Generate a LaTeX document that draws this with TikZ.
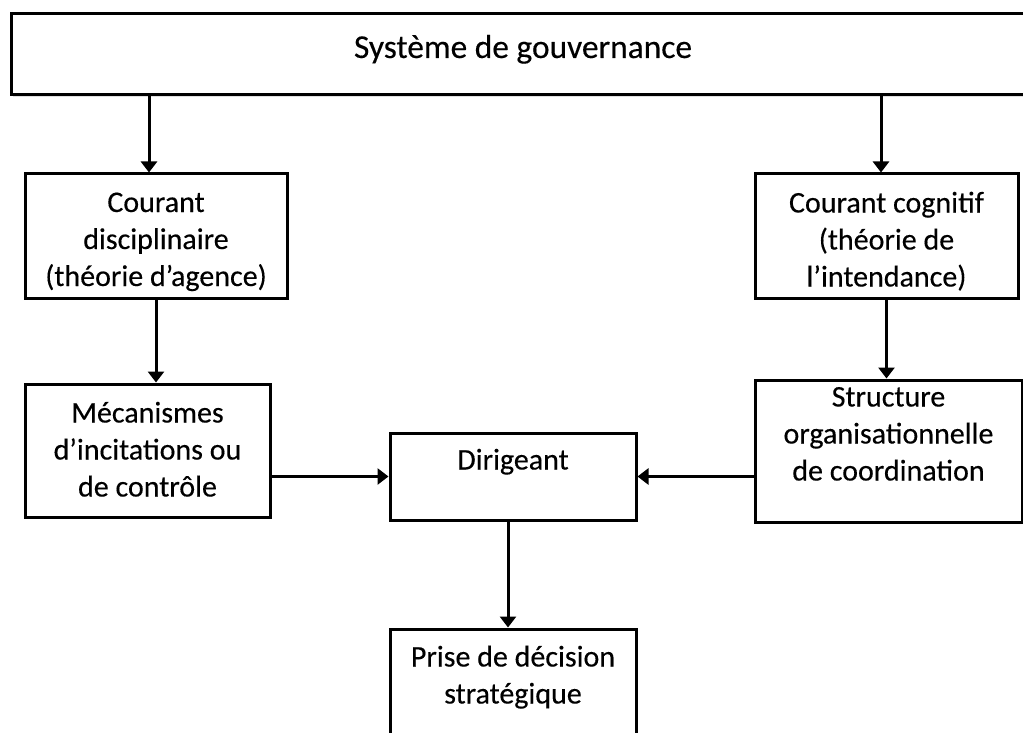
\documentclass[tikz,border=0pt]{standalone}
\usepackage{fontspec}
\setmainfont{Carlito}[FakeBold=0.3]
\usetikzlibrary{arrows.meta,shadows}
\tikzset{% common styles of the diagram elements
  box/.style     = {shape=rectangle, draw, line width=3pt, align=center,
                    inner sep=0pt, fill=white,
                    drop shadow={opacity=0.25, shadow xshift=1.5pt, shadow yshift=-2pt},
                    font=\fontsize{30}{37}\selectfont},
  title/.style   = {box, font=\fontsize{33.4}{40}\selectfont},
  textbox/.style 2 args = {text height=#1, text depth=#2},
  arr/.style     = {draw, line width=3pt, -{Triangle[width=16pt,length=11pt]}},
}
\begin{document}
\begin{tikzpicture}[% pixel grid of the reference, y downwards
            x = 1pt, y = -1pt
        ]
        \useasboundingbox (0,0) rectangle (1023,733);
        % top level
        \node [title, minimum width=1024pt, minimum height=81pt, textbox={7pt}{0pt}]
              (gov) at (523,54.5) {Système de gouvernance};
        % the two currents
        \node [box, minimum width=262pt, minimum height=124pt, textbox={100pt}{0pt}]
              (disc) at (156,236) {Courant\\disciplinaire\\(théorie d’agence)};
        \node [box, minimum width=263pt, minimum height=124pt, textbox={101pt}{0pt}]
              (cogn) at (886.5,236) {Courant cognitif\\(théorie de\\l’intendance)};
        % their means
        \node [box, minimum width=245pt, minimum height=133pt, textbox={92pt}{0pt}]
              (meca) at (147.5,450.5) {Mécanismes\\d’incitations ou\\de contrôle};
        \node [box, minimum width=267pt, minimum height=142pt, textbox={59pt}{0pt}]
              (struct) at (888.5,451) {Structure\\organisationnelle\\de coordination};
        % the manager and the decision
        \node [box, minimum width=246pt, minimum height=87pt, textbox={0pt}{14pt}]
              (dir) at (513,476.5) {Dirigeant};
        \node [box, minimum width=246pt, minimum height=152pt, textbox={0pt}{3pt}]
              (prise) at (513,705) {Prise de décision\\stratégique};
        % connectors
        \draw [arr] ([xshift=-7pt]disc.north |- gov.south) -- ([xshift=-7pt]disc.north);
        \draw [arr] ([xshift=-5.5pt]cogn.north |- gov.south) -- ([xshift=-5.5pt]cogn.north);
        \draw [arr] (disc.south) -- (disc.south |- meca.north);
        \draw [arr] (cogn.south) -- (cogn.south |- struct.north);
        \draw [arr] (meca.east |- dir.west) -- (dir.west);
        \draw [arr] (struct.west |- dir.east) -- (dir.east);
        \draw [arr] ([xshift=-5pt]dir.south) -- ([xshift=-5pt]dir.south |- prise.north);
    \end{tikzpicture}
\end{document}
